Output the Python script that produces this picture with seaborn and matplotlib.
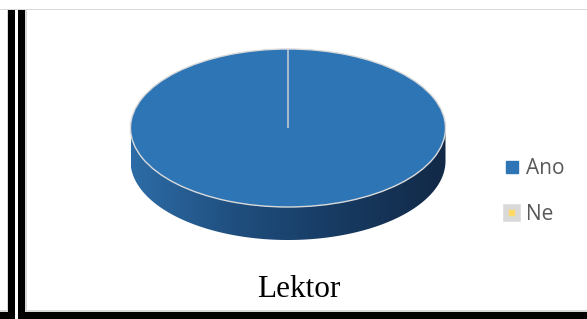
import numpy as np
import matplotlib
matplotlib.use("Agg")
import matplotlib.pyplot as plt
import seaborn as sns
from matplotlib.lines import Line2D
from matplotlib.patches import Rectangle, PathPatch
from matplotlib.path import Path
from matplotlib.transforms import Affine2D
from matplotlib.colors import LinearSegmentedColormap

labels = ["Ano", "Ne"]
values = [100, 0]
colors = ["#2e75b6", "#ffd966"]
title = "Lektor"

sns.set_theme(style="white")
plt.rcParams["font.family"] = ["Open Sans", "DejaVu Sans"]

W, H = 587, 319
fig = plt.figure(figsize=(W / 100, H / 100), dpi=100)
fig.patch.set_facecolor("white")
ax = fig.add_axes([0, 0, 1, 1])

# pie geometry in pixels (y up)
cx, cy = 288, H - 128
a = 157.5
k = 79 / 157.5
depth = 33
b = a * k

# side of the 3d disc with a horizontal shading
t = np.linspace(np.pi, 2 * np.pi, 200)
top = np.column_stack([cx + a * np.cos(t), cy + b * np.sin(t)])
bot = np.column_stack([cx + a * np.cos(t[::-1]), cy - depth + b * np.sin(t[::-1])])
verts = np.vstack([top, bot, top[:1]])
side = PathPatch(Path(verts, closed=True), facecolor="none", edgecolor="none")
ax.add_patch(side)
shade = LinearSegmentedColormap.from_list("side", ["#2d6ca7", "#1f4e7e", "#173a61", "#122947"])
img = ax.imshow(np.linspace(0, 1, 256)[None, :], cmap=shade, aspect="auto",
                extent=[cx - a, cx + a, cy - b - depth, cy], zorder=1)
img.set_clip_path(side)

squash = Affine2D().translate(-cx, -cy).scale(1, k).translate(cx, cy) + ax.transData
wedges, _ = ax.pie(values, colors=colors, startangle=90, counterclock=False,
                   center=(cx, cy), radius=a,
                   wedgeprops=dict(edgecolor="#d9d9d9", linewidth=1.0))
for w in wedges:
    w.set_transform(squash)
    w.set_zorder(2)

ax.set_aspect("auto")
ax.set_xlim(0, W)
ax.set_ylim(0, H)
ax.axis("off")

handles = [
    Line2D([], [], linestyle="none", marker="s", markersize=9,
           markerfacecolor=colors[0], markeredgecolor=colors[0]),
    Line2D([], [], linestyle="none", marker="s", markersize=9,
           markerfacecolor=colors[1], markeredgecolor="#d9d9d9", markeredgewidth=4),
]
leg = fig.legend(handles, labels, loc="center left", bbox_to_anchor=(493 / W, (H - 192) / H),
                 frameon=False, fontsize=15, labelspacing=1.2, handlelength=0.8,
                 handletextpad=0.3, borderpad=0)
for txt in leg.get_texts():
    txt.set_color("#595959")

fig.text(299 / W, (H - 297) / H, title, ha="center", va="baseline",
         fontsize=22.5, family="Liberation Serif", color="black")

# frame decoration
def px_rect(x0, y0, x1, y1, color):
    fig.patches.append(Rectangle((x0 / W, 1 - y1 / H), (x1 - x0) / W, (y1 - y0) / H,
                                 transform=fig.transFigure, facecolor=color,
                                 edgecolor="none", zorder=5))

px_rect(0, 8.5, W, 10, "#d9d9d9")
px_rect(6.5, 10, 8, 310, "#d9d9d9")
px_rect(25, 10, 27.5, 310, "#d9d9d9")
px_rect(0, 309.5, 8, 311.5, "#d9d9d9")
px_rect(25, 309.5, W, 311.5, "#d9d9d9")
px_rect(8, 10, 15, H, "black")
px_rect(18, 10, 25, H, "black")
px_rect(0, 312, 15, H, "black")
px_rect(18, 312, W, H, "black")

fig.savefig("out.png", dpi=100)
